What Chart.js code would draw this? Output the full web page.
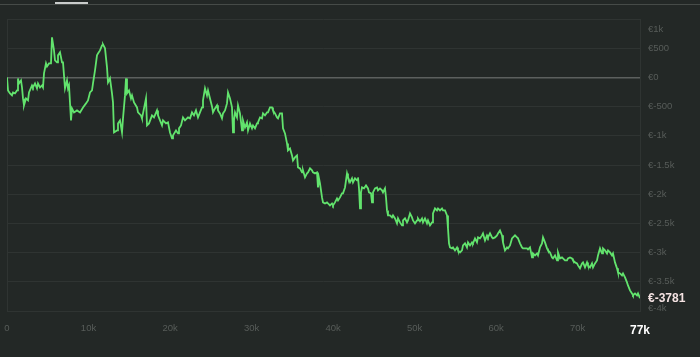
<!DOCTYPE html>
<html>
<head>
<meta charset="utf-8">
<script src="https://cdn.jsdelivr.net/npm/chart.js@4/dist/chart.umd.min.js"></script>
<style>
  html, body { margin: 0; padding: 0; background: #232826; width: 700px; height: 357px; overflow: hidden; }
  #wrap { position: relative; width: 700px; height: 357px; }
  #c { position: absolute; left: 0; top: 0; }
  .topline { position: absolute; left: 0; top: 4px; width: 700px; height: 1px; background: #464b48; }
  .tabmark { position: absolute; left: 55px; top: 2px; width: 33px; height: 2px; background: #c9cccb; }
</style>
</head>
<body>
<div id="wrap">
  <canvas id="c" width="700" height="357"></canvas>
  <div class="topline"></div>
  <div class="tabmark"></div>
</div>
<script>
// ---- data ----
const trades = [0,123,368,613,736,981,1227,1349,1472,1717,1840,1963,2085,2331,2576,2699,3067,3189,3435,3680,3803,4048,4293,4416,4539,4784,4907,5152,5397,5520,5765,5888,6134,6256,6502,6747,6870,7115,7360,7483,7606,7851,7974,8219,8587,8955,9323,9691,9936,10182,10427,10550,10795,11040,11163,11408,11654,11776,12022,12267,12390,12635,12880,13003,13126,13494,13616,13862,14107,14230,14475,14598,14720,14966,15211,15334,15579,15947,16070,16438,16560,16806,17051,17174,17419,17787,18032,18401,18523,18769,19014,19137,19505,19750,19995,20241,20363,20731,20977,21099,21345,21590,21835,22203,22449,22694,22939,23185,23430,23675,23921,24043,24289,24534,24657,24902,25147,25270,25515,25761,25883,26129,26374,26497,26742,26987,27110,27356,27601,27724,27846,27969,28214,28337,28582,28828,28950,29196,29441,29564,29809,30054,30177,30422,30668,30790,31036,31281,31404,31649,31894,32017,32262,32508,32630,32876,33121,33244,33489,33734,33857,34102,34348,34470,34716,34961,35084,35329,35574,35697,35942,36188,36310,36556,36801,36924,37169,37414,37537,37782,38028,38150,38273,38396,38641,38764,39009,39254,39377,39622,39868,39990,40236,40481,40604,40849,41094,41217,41462,41708,41830,42076,42321,42444,42689,42935,43057,43180,43303,43425,43548,43793,44039,44284,44407,44652,44775,44897,45143,45388,45511,45756,46001,46124,46369,46492,46615,46737,46983,47228,47351,47596,47841,47964,48209,48455,48577,48823,49068,49191,49436,49681,49804,50049,50295,50417,50663,50908,51031,51276,51521,51644,51889,52135,52257,52503,52748,52871,53116,53361,53484,53729,53975,54097,54220,54343,54588,54711,54956,55202,55324,55570,55815,55938,56183,56428,56551,56796,57042,57164,57410,57655,57778,58023,58268,58391,58636,58882,59004,59250,59495,59618,59863,60108,60231,60476,60722,60844,61090,61335,61458,61703,61948,62071,62316,62562,62684,62930,63175,63298,63543,63788,63911,64156,64402,64524,64770,65015,65138,65383,65628,65751,65996,66242,66364,66610,66855,66978,67223,67469,67591,67836,68082,68205,68450,68695,68818,69063,69309,69431,69677,69922,70045,70290,70535,70658,70903,71149,71271,71517,71762,71885,72130,72375,72498,72743,72989,73111,73357,73602,73725,73970,74215,74338,74583,74829,74951,75197,75442,75565,75810,76055,76178,76423,76669,76791,77037,77282,77405,77650];
const pnl = [0,-223,-274,-308,-257,-274,-223,-17,-103,-51,-171,-360,-479,-360,-394,-257,-137,-171,-103,-188,-103,-171,-137,-171,68,240,188,240,240,685,462,291,257,377,428,257,257,-188,-51,-188,-137,-736,-531,-599,-565,-599,-514,-445,-394,-257,-223,-103,120,377,411,462,548,565,497,171,-86,-17,-274,-428,-942,-908,-788,-736,-942,-702,-308,-17,-274,-223,-360,-308,-428,-514,-599,-651,-702,-531,-360,-822,-788,-651,-685,-565,-651,-736,-822,-736,-788,-771,-942,-1045,-993,-908,-959,-873,-822,-685,-736,-685,-702,-599,-651,-565,-685,-599,-514,-394,-188,-308,-223,-360,-497,-599,-531,-479,-565,-616,-702,-616,-565,-445,-257,-360,-514,-942,-736,-599,-685,-479,-616,-908,-736,-856,-771,-908,-788,-873,-822,-873,-788,-771,-685,-702,-616,-651,-599,-599,-514,-514,-565,-616,-685,-702,-616,-616,-873,-959,-1130,-1250,-1216,-1336,-1421,-1370,-1336,-1541,-1558,-1627,-1592,-1712,-1644,-1627,-1558,-1592,-1627,-1644,-1627,-1884,-1729,-1815,-2055,-2140,-2158,-2140,-2158,-2192,-2158,-2192,-2140,-2072,-2106,-2055,-1986,-1986,-1884,-1644,-1712,-1798,-1729,-1798,-1729,-1764,-1712,-1901,-2243,-1969,-1884,-1901,-1849,-1901,-1969,-1986,-2140,-1969,-1901,-1884,-1935,-1901,-1935,-1969,-1901,-2055,-2277,-2363,-2363,-2397,-2363,-2414,-2500,-2414,-2483,-2534,-2449,-2414,-2483,-2449,-2329,-2397,-2449,-2500,-2449,-2414,-2466,-2414,-2483,-2414,-2500,-2449,-2534,-2483,-2329,-2243,-2277,-2243,-2277,-2243,-2277,-2277,-2363,-2586,-2842,-2911,-2928,-2911,-2962,-2911,-2962,-2997,-2962,-2877,-2842,-2911,-2825,-2877,-2825,-2842,-2757,-2825,-2740,-2757,-2705,-2671,-2791,-2705,-2740,-2671,-2740,-2757,-2740,-2705,-2671,-2620,-2705,-2825,-2962,-2911,-2928,-2877,-2757,-2740,-2705,-2740,-2757,-2842,-2911,-2928,-2928,-2928,-2945,-2911,-3082,-3014,-3048,-3014,-3048,-2911,-2842,-2740,-2825,-2928,-2962,-2997,-3082,-3099,-3048,-3134,-2997,-3099,-3082,-3099,-3134,-3134,-3099,-3082,-3099,-3134,-3168,-3185,-3219,-3270,-3185,-3168,-3253,-3168,-3219,-3253,-3185,-3253,-3185,-3134,-3048,-2928,-3014,-2928,-2962,-3014,-2962,-2997,-3048,-3014,-3168,-3270,-3339,-3356,-3390,-3356,-3425,-3510,-3562,-3647,-3699,-3733,-3699,-3733,-3699,-3781];
const xTickValues = [0, 10000, 20000, 30000, 40000, 50000, 60000, 70000, 77650];
const yTickValues = [1000, 500, 0, -500, -1000, -1500, -2000, -2500, -3000, -3500, -4000];

// ---- styling ----
const LINE = '#62e36d';
const GRID = '#2f3432';
const ZERO = '#5c605e';
const LABEL = '#575c59';
const FONT = '"Liberation Sans", Arial, sans-serif';

function fmtY(v) {
  if (v === 0) return '€0';
  if (Math.abs(v) >= 1000) return '€' + (v / 1000) + 'k';
  return '€' + v;
}
function fmtX(v) {
  if (v === 0) return '0';
  return Math.floor(v / 1000) + 'k';
}

const yLabelPlugin = {
  id: 'yLabels',
  afterDraw(chart) {
    const ys = chart.scales.y;
    const ctx = chart.ctx;
    ctx.save();
    ctx.textAlign = 'left';
    ctx.textBaseline = 'middle';
    ctx.font = '9.5px ' + FONT;
    ctx.fillStyle = LABEL;
    const x = ys.left + 8;
    yTickValues.forEach(v => {
      let y = ys.getPixelForValue(v);
      if (v === ys.max) y += 10;
      if (v === ys.min) y -= 3;
      ctx.fillText(fmtY(v), x, y);
    });
    const last = pnl[pnl.length - 1];
    ctx.font = 'bold 12px ' + FONT;
    ctx.fillStyle = '#f5e3e3';
    ctx.fillText('€' + last, x, ys.getPixelForValue(last));
    ctx.restore();
  }
};

new Chart(document.getElementById('c'), {
  type: 'line',
  data: {
    datasets: [{
      data: trades.map((t, i) => ({ x: t, y: pnl[i] })),
      borderColor: LINE,
      borderWidth: 1.8,
      pointRadius: 0,
      tension: 0,
      fill: false
    }]
  },
  options: {
    responsive: false,
    devicePixelRatio: 1,
    animation: false,
    layout: { padding: { top: 19, left: 7, right: 0, bottom: 0 } },
    plugins: { legend: { display: false }, tooltip: { enabled: false } },
    scales: {
      x: {
        type: 'linear',
        min: 0,
        max: 77650,
        afterBuildTicks: s => { s.ticks = xTickValues.map(v => ({ value: v })); },
        afterFit: s => { s.height = 46; s.paddingLeft = 0; s.paddingRight = 0; },
        grid: {
          drawTicks: false,
          color: ctx => (ctx.index === 0 ? GRID : 'rgba(0,0,0,0)')
        },
        border: { display: true, color: GRID },
        ticks: {
          padding: 12,
          autoSkip: false,
          maxRotation: 0,
          callback: v => fmtX(v),
          color: ctx => (ctx.index === xTickValues.length - 1 ? '#ffffff' : LABEL),
          font: ctx => (ctx.index === xTickValues.length - 1
            ? { family: FONT, size: 12, weight: 'bold' }
            : { family: FONT, size: 9.5 })
        }
      },
      y: {
        position: 'right',
        min: -4000,
        max: 1000,
        afterBuildTicks: s => { s.ticks = yTickValues.map(v => ({ value: v })); },
        afterFit: s => { s.width = 60; s.paddingTop = 0; s.paddingBottom = 0; },
        grid: {
          drawTicks: false,
          color: ctx => (ctx.tick && ctx.tick.value === 0 ? ZERO : GRID),
          lineWidth: ctx => (ctx.tick && ctx.tick.value === 0 ? 1.5 : 1)
        },
        border: { display: true, color: GRID },
        ticks: { display: false }
      }
    }
  },
  plugins: [yLabelPlugin]
});
</script>
</body>
</html>
